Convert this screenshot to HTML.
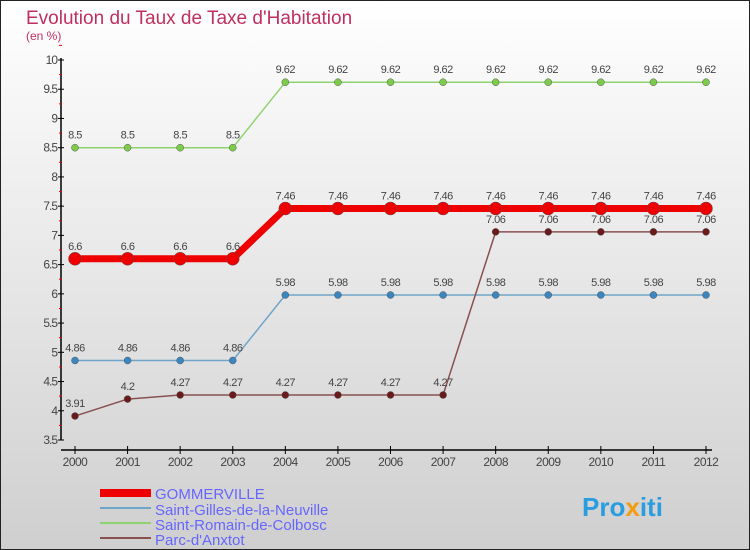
<!DOCTYPE html>
<html><head><meta charset="utf-8"><style>
body{margin:0;}
svg{display:block;font-family:"Liberation Sans",sans-serif;}
</style></head><body>
<svg id="c" width="750" height="550">
<defs><linearGradient id="bg" x1="0" y1="0" x2="0" y2="1"><stop offset="0" stop-color="#ffffff"/><stop offset="1" stop-color="#cfcfcf"/></linearGradient></defs>
<rect x="0.5" y="0.5" width="749" height="549" fill="url(#bg)" stroke="#222"/>
<text x="26" y="24" font-size="19" fill="#c0305e">Evolution du Taux de Taxe d'Habitation</text>
<text x="26" y="40" font-size="12" fill="#c0305e">(en %)</text>
<g id="axes"></g><g id="series"></g>
<g>
<rect x="100" y="489" width="51" height="8" fill="#e00"/>
<text x="155" y="499" font-size="15" fill="#6666ff">GOMMERVILLE</text>
<line x1="100" y1="508" x2="151" y2="508" stroke="#6fa5c8" stroke-width="2"/>
<text x="155" y="515" font-size="15" fill="#6666ff">Saint-Gilles-de-la-Neuville</text>
<line x1="100" y1="523" x2="151" y2="523" stroke="#8fd36f" stroke-width="2"/>
<text x="155" y="530" font-size="15" fill="#6666ff">Saint-Romain-de-Colbosc</text>
<line x1="100" y1="538" x2="151" y2="538" stroke="#8a5050" stroke-width="2"/>
<text x="155" y="545" font-size="15" fill="#6666ff">Parc-d'Anxtot</text>
</g>
<text x="582" y="516" font-size="26" font-weight="bold" fill="#2a9de0">Pro<tspan fill="#f39c12">x</tspan>iti</text>
</svg>
<script>
const years=[2000,2001,2002,2003,2004,2005,2006,2007,2008,2009,2010,2011,2012];
const yTicks=[3.5,4,4.5,5,5.5,6,6.5,7,7.5,8,8.5,9,9.5,10];
const gommerville=[6.6,6.6,6.6,6.6,7.46,7.46,7.46,7.46,7.46,7.46,7.46,7.46,7.46];
const saintGilles=[4.86,4.86,4.86,4.86,5.98,5.98,5.98,5.98,5.98,5.98,5.98,5.98,5.98];
const saintRomain=[8.5,8.5,8.5,8.5,9.62,9.62,9.62,9.62,9.62,9.62,9.62,9.62,9.62];
const parc=[3.91,4.2,4.27,4.27,4.27,4.27,4.27,4.27,7.06,7.06,7.06,7.06,7.06];
const NS="http://www.w3.org/2000/svg";
const X=i=>75+i*(706-75)/12;
const Y=v=>440-(v-3.5)*(380/6.5);
function mk(tag,at,parent,txt){const e=document.createElementNS(NS,tag);for(const k in at)e.setAttribute(k,at[k]);if(txt!==undefined)e.textContent=txt;parent.appendChild(e);return e;}
const ax=document.getElementById('axes');
let e=mk('line',{x1:61,y1:58,x2:61,y2:440,stroke:'#000','stroke-width':1.5},ax);


e=mk('line',{x1:61,y1:450,x2:712,y2:450,stroke:'#000','stroke-width':1.5},ax);


yTicks.forEach(v=>{const y=Y(v);mk('line',{x1:58,y1:y,x2:64,y2:y,stroke:'#000'},ax);
mk('line',{x1:59,y1:y-14.6,x2:62,y2:y-14.6,stroke:'#e00'},ax);
const t=mk('text',{x:57,y:y+4,'font-size':12,'text-anchor':'end',fill:'#444','letter-spacing':'-1'},ax,String(v));

});
years.forEach((yr,i)=>{const x=X(i);mk('line',{x1:x,y1:446,x2:x,y2:454,stroke:'#000'},ax);
const t=mk('text',{x:x,y:466,'font-size':12,'text-anchor':'middle',fill:'#444','letter-spacing':'-0.5'},ax,String(yr));

});
const sg=document.getElementById('series');
function series(vals,color,w,r,name,dot){const g=mk('g',{},sg);


mk('polyline',{points:vals.map((v,i)=>X(i)+','+Y(v)).join(' '),fill:'none',stroke:color,'stroke-width':w,'stroke-linejoin':'round'},g);
vals.forEach((v,i)=>{const c=mk('circle',{cx:X(i),cy:Y(v),r:r,fill:dot,stroke:'#555','stroke-width':0.5},g);


mk('text',{x:X(i),y:Y(v)-9,'font-size':11,'text-anchor':'middle',fill:'#444','letter-spacing':'-0.5'},g,String(v));});}
series(saintRomain,'#8fd36f',1.5,3.5,'series-saint-romain','#7ccc4a');
series(saintGilles,'#6fa5c8',1.5,3.5,'series-saint-gilles','#3c86c0');
series(parc,'#8a5050',1.5,3.5,'series-parc-danxtot','#6a1a1a');
series(gommerville,'#e00',7,6.5,'series-gommerville','#e00');
</script>
</body></html>
